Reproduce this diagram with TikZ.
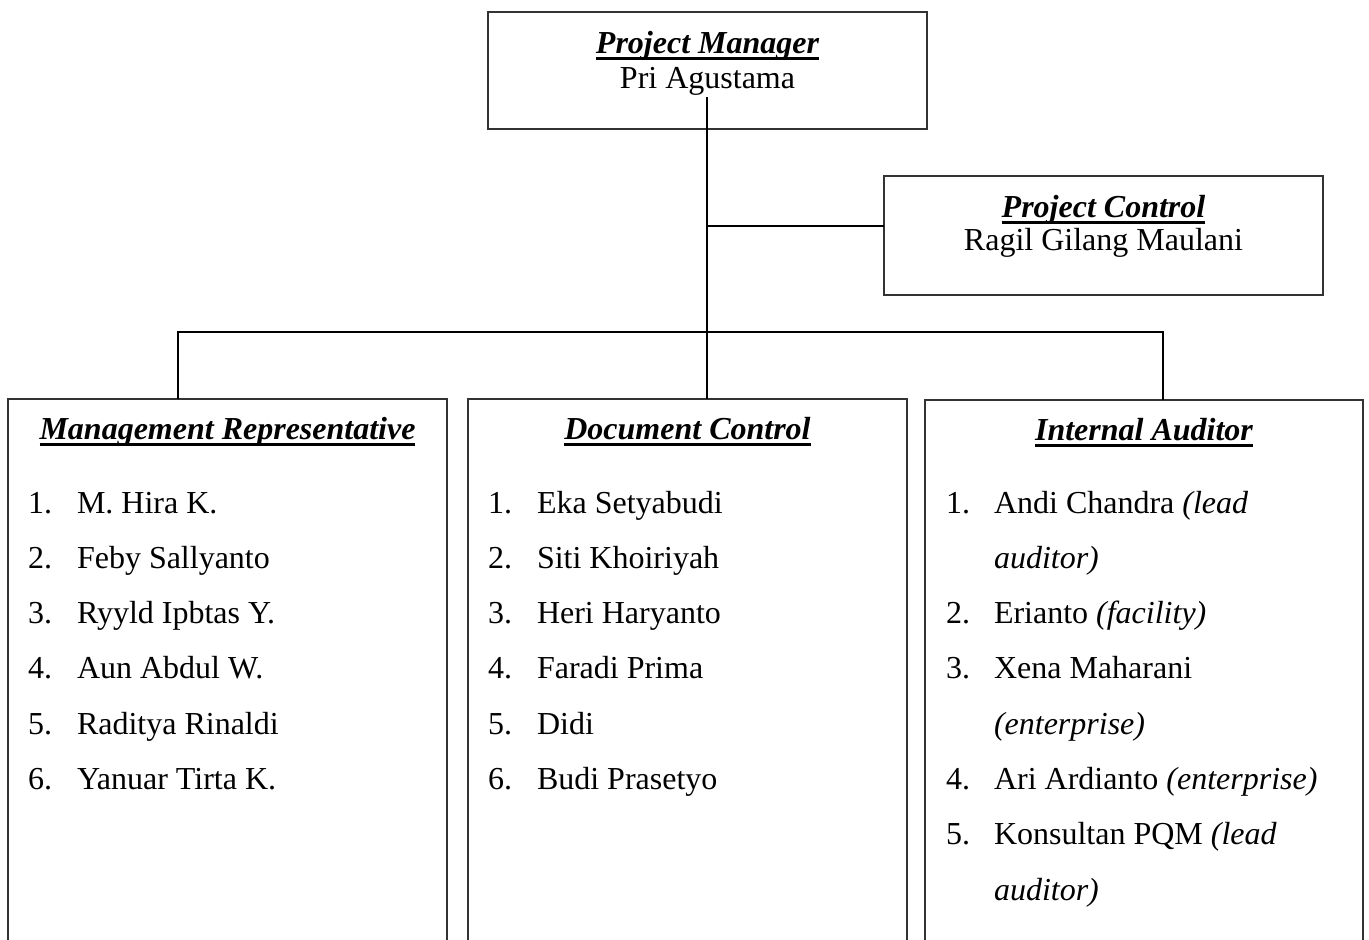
\documentclass[tikz,border=0pt]{standalone}
\usepackage{fontspec}
\setmainfont{Liberation Serif}
\newsavebox\hdrbox
\newcommand\hdr[1]{\sbox\hdrbox{\bfseries\itshape #1}\rlap{\rule[-7pt]{\wd\hdrbox}{2.8pt}}\usebox\hdrbox}
\begin{document}
\begin{tikzpicture}[x=1pt,y=-1pt,
  box/.style={draw=black!80, line width=1.4pt, inner sep=0pt, outer sep=0pt, anchor=north west},
  conn/.style={draw=black, line width=1.1pt},
  txt/.style={inner sep=0pt, outer sep=0pt, font=\fontsize{32}{38}\selectfont},
  num/.style={txt, anchor=base west},
  itm/.style={txt, anchor=base west}]
\useasboundingbox (0,0) rectangle (1369,940);
\clip (0,0) rectangle (1369,940);
\fill[white] (0,0) rectangle (1369,940);

% boxes
\node[box, minimum width=439pt, minimum height=117pt] (pm) at (488,12) {};
\node[box, minimum width=439pt, minimum height=119pt] (pc) at (884,176) {};
\node[box, minimum width=439pt, minimum height=560pt] (mr) at (8,399) {};
\node[box, minimum width=439pt, minimum height=560pt] (dc) at (468,399) {};
\node[box, minimum width=438pt, minimum height=560pt] (ia) at (925,400) {};

% top texts
\node[txt, anchor=base] (pmh) at (707.5,53) {\hdr{Project Manager}};
\node[txt, anchor=base] (pmn) at (707.5,88) {Pri Agustama};
\node[txt, anchor=base] (pch) at (1103.5,217) {\hdr{Project Control}};
\node[txt, anchor=base] (pcn) at (1103.5,250) {Ragil Gilang Maulani};

% headers of the lower boxes
\node[txt, anchor=base] (mrh) at (227.5,439) {\hdr{Management Representative}};
\node[txt, anchor=base] (dch) at (687.5,439) {\hdr{Document Control}};
\node[txt, anchor=base] (iah) at (1144,440) {\hdr{Internal Auditor}};

% Management Representative list
\foreach \t [count=\i] in {M. Hira K., Feby Sallyanto, Ryyld Ipbtas Y., Aun Abdul W., Raditya Rinaldi, Yanuar Tirta K.}{
  \node[num] (mrn\i) at (28,{513+55.3*(\i-1)}) {\i.};
  \node[itm] (mrt\i) at (77,{513+55.3*(\i-1)}) {\t};
}
% Document Control list
\foreach \t [count=\i] in {Eka Setyabudi, Siti Khoiriyah, Heri Haryanto, Faradi Prima, Didi, Budi Prasetyo}{
  \node[num] (dcn\i) at (488,{513+55.3*(\i-1)}) {\i.};
  \node[itm] (dct\i) at (537,{513+55.3*(\i-1)}) {\t};
}
% Internal Auditor list
\node[num] (ian1) at (946,513) {1.};
\node[itm] (iat1) at (994,513) {Andi Chandra \textit{(lead}};
\node[itm] (iat1b) at (994,568.3) {\textit{auditor)}};
\node[num] (ian2) at (946,623.6) {2.};
\node[itm] (iat2) at (994,623.6) {Erianto \textit{(facility)}};
\node[num] (ian3) at (946,678.9) {3.};
\node[itm] (iat3) at (994,678.9) {Xena Maharani};
\node[itm] (iat3b) at (994,734.2) {\textit{(enterprise)}};
\node[num] (ian4) at (946,789.5) {4.};
\node[itm] (iat4) at (994,789.5) {Ari Ardianto \textit{(enterprise)}};
\node[num] (ian5) at (946,844.8) {5.};
\node[itm] (iat5) at (994,844.8) {Konsultan PQM \textit{(lead}};
\node[itm] (iat5b) at (994,900.1) {\textit{auditor)}};

% connectors
\coordinate (stem) at (707,97);
\coordinate (pcjoin) at (707,226);
\coordinate (busL) at (178,332);
\coordinate (busR) at (1163,332);
\draw[conn] (stem) -- (stem |- dc.north);
\draw[conn] (pcjoin) -- (pcjoin -| pc.west);
\draw[conn] (busL |- mr.north) -- (busL) -- (busR) -- (busR |- ia.north);
\end{tikzpicture}
\end{document}
